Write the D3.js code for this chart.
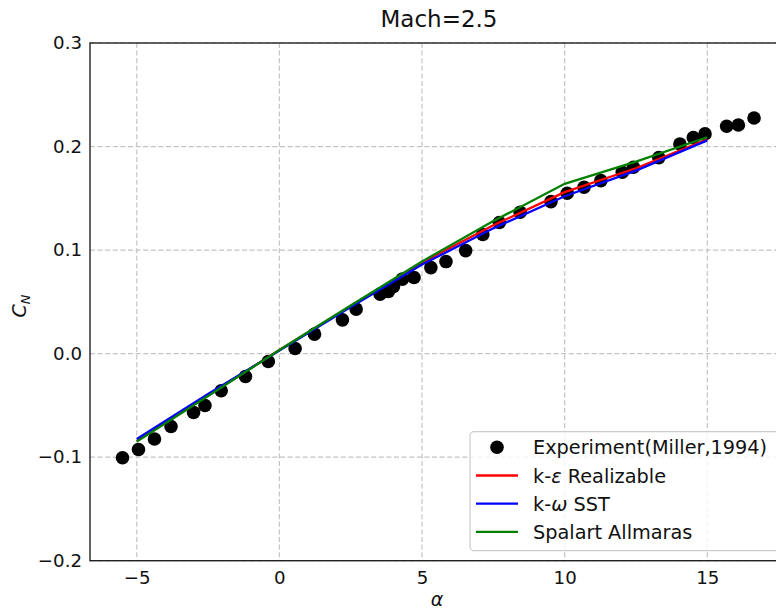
<!DOCTYPE html>
<html>
<head>
<meta charset="utf-8">
<script src="https://cdn.jsdelivr.net/npm/d3@7/dist/d3.min.js"></script>
<style>
  html, body { margin: 0; padding: 0; background: #fff; }
  svg { display: block; font-family: "DejaVu Sans", sans-serif; }
</style>
</head>
<body>
<svg id="chart" width="776" height="615"></svg>
<script>
// Experimental normal-force coefficient (Miller, 1994)
const expAlpha = [-5.50, -4.94, -4.38, -3.80, -3.01, -2.61, -2.04, -1.19, -0.39, 0.55,
                  1.23, 2.21, 2.69, 3.53, 3.82, 4.00, 4.31, 4.72, 5.31, 5.84, 6.53,
                  7.13, 7.71, 8.44, 9.52, 10.09, 10.68, 11.27, 12.02, 12.41, 13.30,
                  14.04, 14.51, 14.92, 15.68, 16.09, 16.64];
const expCN = [-0.1006, -0.0926, -0.0825, -0.0704, -0.0568, -0.0501, -0.0359, -0.0221, -0.0076, 0.0050,
               0.0188, 0.0326, 0.0430, 0.0574, 0.0600, 0.0648, 0.0719, 0.0735, 0.0831, 0.0889, 0.0995,
               0.1150, 0.1266, 0.1366, 0.1468, 0.1549, 0.1607, 0.1671, 0.1752, 0.1800, 0.1893,
               0.2025, 0.2086, 0.2122, 0.2196, 0.2208, 0.2276];

// CFD results at the computed angles of attack
const cfdAlpha = [-5, -2.5, 0, 2.5, 5, 7.5, 10, 12.5, 15];
const cnRealizable = [-0.0845, -0.0405, 0.0035, 0.0460, 0.0880, 0.1240, 0.1560, 0.1790, 0.2070];
const cnSST        = [-0.0825, -0.0390, 0.0030, 0.0450, 0.0860, 0.1210, 0.1520, 0.1767, 0.2060];
const cnSA         = [-0.0850, -0.0410, 0.0035, 0.0465, 0.0890, 0.1280, 0.1640, 0.1855, 0.2090];

const xTicks = [-5, 0, 5, 10, 15];
const yTicks = [-0.2, -0.1, 0.0, 0.1, 0.2, 0.3];

const svg = d3.select("#chart");
const plot = { left: 90, right: 790, top: 43, bottom: 560.7 };

const x = d3.scaleLinear().domain([-6.64, 17.9]).range([plot.left, plot.right]);
const y = d3.scaleLinear().domain([-0.2, 0.3]).range([plot.bottom, plot.top]);

const textColor = "#111";

// grid
const grid = svg.append("g");
grid.selectAll("line.gx").data(xTicks).join("line")
  .attr("x1", d => x(d)).attr("x2", d => x(d))
  .attr("y1", plot.top).attr("y2", plot.bottom)
  .attr("stroke", "#c4c4c4").attr("stroke-width", 1.2).attr("stroke-dasharray", "5,2.6");
grid.selectAll("line.gy").data(yTicks).join("line")
  .attr("x1", plot.left).attr("x2", plot.right)
  .attr("y1", d => y(d)).attr("y2", d => y(d))
  .attr("stroke", "#c4c4c4").attr("stroke-width", 1.2).attr("stroke-dasharray", "5,2.6");

// axes (labels only, no tick marks)
const xAxis = d3.axisBottom(x).tickValues(xTicks).tickSize(0).tickPadding(10)
  .tickFormat(d => d3.format("d")(d).replace("-", "\u2212"));
const yAxis = d3.axisLeft(y).tickValues(yTicks).tickSize(0).tickPadding(8)
  .tickFormat(d => d3.format(".1f")(d).replace("-", "\u2212"));

const gx = svg.append("g").attr("transform", `translate(0,${plot.bottom})`).call(xAxis);
const gy = svg.append("g").attr("transform", `translate(${plot.left},0)`).call(yAxis);
[gx, gy].forEach(g => {
  g.select(".domain").remove();
  g.selectAll("text").attr("font-size", 18.2).attr("fill", textColor)
    .attr("font-family", "DejaVu Sans, sans-serif");
});

// CFD lines
const line = d3.line().x(d => x(d[0])).y(d => y(d[1]));
const series = [
  { name: "Realizable", values: cnRealizable, color: "#ff0000" },
  { name: "SST", values: cnSST, color: "#0000ff" },
  { name: "SA", values: cnSA, color: "#008000" }
];

// experiment markers
svg.append("g").selectAll("circle").data(expAlpha.map((a, i) => [a, expCN[i]])).join("circle")
  .attr("cx", d => x(d[0])).attr("cy", d => y(d[1])).attr("r", 6.8).attr("fill", "#000");

svg.append("g").selectAll("path").data(series).join("path")
  .attr("d", s => line(cfdAlpha.map((a, i) => [a, s.values[i]])))
  .attr("fill", "none").attr("stroke", s => s.color).attr("stroke-width", 2.3);

// frame
svg.append("rect")
  .attr("x", plot.left).attr("y", plot.top)
  .attr("width", plot.right - plot.left).attr("height", plot.bottom - plot.top)
  .attr("fill", "none").attr("stroke", "#222").attr("stroke-width", 1.4);

// title and axis labels
svg.append("text").attr("x", 439).attr("y", 27).attr("text-anchor", "middle")
  .attr("font-size", 23).attr("fill", textColor).text("Mach=2.5");

svg.append("text").attr("x", 437).attr("y", 606).attr("text-anchor", "middle")
  .attr("font-size", 19).attr("font-style", "italic").attr("fill", textColor).text("α");

const yl = svg.append("text").attr("transform", "translate(26,306) rotate(-90)")
  .attr("text-anchor", "middle").attr("font-size", 19).attr("fill", textColor);
yl.append("tspan").attr("font-style", "italic").text("C");
yl.append("tspan").attr("font-style", "italic").attr("font-size", 13).attr("dy", 4).text("N");

// legend
const lg = svg.append("g");
lg.append("rect").attr("x", 470).attr("y", 431.7).attr("width", 320).attr("height", 119)
  .attr("rx", 4).attr("fill", "#fff").attr("fill-opacity", 0.8)
  .attr("stroke", "#cccccc").attr("stroke-width", 1.2);

const legendRows = [
  { label: ["Experiment(Miller,1994)"], marker: true },
  { label: ["k-", "ε", " Realizable"], color: "#ff0000" },
  { label: ["k-", "ω", " SST"], color: "#0000ff" },
  { label: ["Spalart Allmaras"], color: "#008000" }
];
legendRows.forEach((r, i) => {
  const cy = 447.3 + i * 28.2;
  if (r.marker) {
    lg.append("circle").attr("cx", 497).attr("cy", cy).attr("r", 6.8).attr("fill", "#000");
  } else {
    lg.append("line").attr("x1", 476).attr("x2", 518).attr("y1", cy).attr("y2", cy)
      .attr("stroke", r.color).attr("stroke-width", 2.3);
  }
  const t = lg.append("text").attr("x", 533).attr("y", cy + 7)
    .attr("font-size", 19.3).attr("fill", textColor);
  r.label.forEach((s, j) => {
    const ts = t.append("tspan").text(s);
    if (j === 1) ts.attr("font-style", "italic");
  });
});
</script>
</body>
</html>
